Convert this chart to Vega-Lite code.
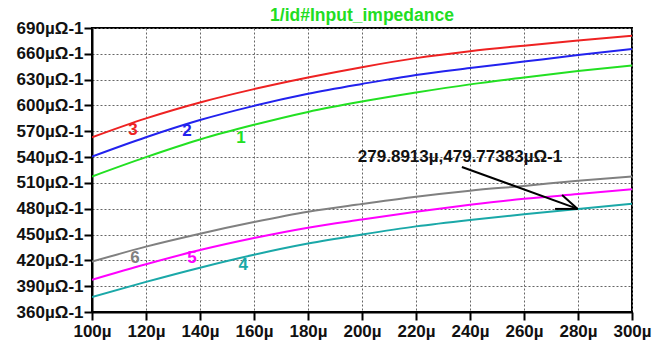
{
  "$schema": "https://vega.github.io/schema/vega-lite/v6.json",
  "width": 540,
  "height": 284,
  "autosize": {"type": "none"},
  "padding": {"left": 92, "top": 28, "right": 27, "bottom": 37},
  "background": "white",
  "config": {"view": {"stroke": "black", "strokeWidth": 2}, "font": "Liberation Sans"},
  "title": {"text": "1/id#Input_impedance", "color": "#22dd22", "fontSize": 17.5, "fontWeight": "bold", "font": "Liberation Sans", "anchor": "middle", "offset": 6, "dy": 11},
  "datasets": {
    "curves": [
      {"s": "3", "x": 100, "y": 563}, {"s": "3", "x": 120, "y": 585}, {"s": "3", "x": 140, "y": 603.5}, {"s": "3", "x": 160, "y": 619}, {"s": "3", "x": 180, "y": 632.5}, {"s": "3", "x": 200, "y": 644.5}, {"s": "3", "x": 220, "y": 655}, {"s": "3", "x": 240, "y": 663}, {"s": "3", "x": 260, "y": 669.5}, {"s": "3", "x": 280, "y": 675.5}, {"s": "3", "x": 300, "y": 681},
      {"s": "2", "x": 100, "y": 540.5}, {"s": "2", "x": 120, "y": 563}, {"s": "2", "x": 140, "y": 583}, {"s": "2", "x": 160, "y": 599.5}, {"s": "2", "x": 180, "y": 613.5}, {"s": "2", "x": 200, "y": 625}, {"s": "2", "x": 220, "y": 635.5}, {"s": "2", "x": 240, "y": 643.5}, {"s": "2", "x": 260, "y": 651}, {"s": "2", "x": 280, "y": 658.5}, {"s": "2", "x": 300, "y": 665.5},
      {"s": "1", "x": 100, "y": 517.5}, {"s": "1", "x": 120, "y": 540}, {"s": "1", "x": 140, "y": 560.5}, {"s": "1", "x": 160, "y": 577.5}, {"s": "1", "x": 180, "y": 592.5}, {"s": "1", "x": 200, "y": 604.5}, {"s": "1", "x": 220, "y": 615}, {"s": "1", "x": 240, "y": 624.5}, {"s": "1", "x": 260, "y": 632.5}, {"s": "1", "x": 280, "y": 640}, {"s": "1", "x": 300, "y": 646.5},
      {"s": "6", "x": 100, "y": 418.5}, {"s": "6", "x": 120, "y": 436}, {"s": "6", "x": 140, "y": 451}, {"s": "6", "x": 160, "y": 464.5}, {"s": "6", "x": 180, "y": 476.5}, {"s": "6", "x": 200, "y": 485.5}, {"s": "6", "x": 220, "y": 494}, {"s": "6", "x": 240, "y": 501}, {"s": "6", "x": 260, "y": 506.5}, {"s": "6", "x": 280, "y": 512.5}, {"s": "6", "x": 300, "y": 517.5},
      {"s": "5", "x": 100, "y": 397.5}, {"s": "5", "x": 120, "y": 415.5}, {"s": "5", "x": 140, "y": 432}, {"s": "5", "x": 160, "y": 446}, {"s": "5", "x": 180, "y": 458}, {"s": "5", "x": 200, "y": 467.5}, {"s": "5", "x": 220, "y": 476.5}, {"s": "5", "x": 240, "y": 484.5}, {"s": "5", "x": 260, "y": 491.5}, {"s": "5", "x": 280, "y": 497}, {"s": "5", "x": 300, "y": 502.5},
      {"s": "4", "x": 100, "y": 377.5}, {"s": "4", "x": 120, "y": 395}, {"s": "4", "x": 140, "y": 411.5}, {"s": "4", "x": 160, "y": 426.5}, {"s": "4", "x": 180, "y": 439.5}, {"s": "4", "x": 200, "y": 450}, {"s": "4", "x": 220, "y": 459.5}, {"s": "4", "x": 240, "y": 467}, {"s": "4", "x": 260, "y": 473.5}, {"s": "4", "x": 280, "y": 479.8}, {"s": "4", "x": 300, "y": 485.8}
    ],
    "labels": [
      {"s": "3", "x": 115.2, "y": 571.5, "t": "3"},
      {"s": "2", "x": 135.2, "y": 570.3, "t": "2"},
      {"s": "1", "x": 155.2, "y": 562.2, "t": "1"},
      {"s": "6", "x": 115.9, "y": 422.7, "t": "6"},
      {"s": "5", "x": 137, "y": 422.7, "t": "5"},
      {"s": "4", "x": 156, "y": 414.6, "t": "4"}
    ],
    "note": [
      {"x": 236.3, "y": 540, "t": "279.8913µ,479.77383µΩ-1"}
    ],
    "arrow": [
      {"seg": "a", "x": 237, "y": 528.5}, {"seg": "a", "x": 279.89, "y": 479.77},
      {"seg": "b", "x": 274.1, "y": 496}, {"seg": "b", "x": 279.89, "y": 479.77},
      {"seg": "c", "x": 271.5, "y": 479.77}, {"seg": "c", "x": 279.89, "y": 479.77}
    ]
  },
  "encoding": {
    "x": {
      "field": "x", "type": "quantitative",
      "scale": {"domain": [100, 300], "nice": false, "zero": false},
      "axis": {
        "title": null, "values": [100, 120, 140, 160, 180, 200, 220, 240, 260, 280, 300],
        "labelExpr": "datum.value + 'µ'", "grid": true, "gridDash": [2, 2], "gridColor": "#666666", "gridWidth": 1,
        "domainColor": "black", "domainWidth": 2, "tickColor": "black", "tickWidth": 2, "tickSize": 8,
        "labelFontSize": 17, "labelFontWeight": "bold", "labelColor": "#111111", "labelPadding": 3, "labelFont": "Liberation Sans", "labelFlush": false, "labelOverlap": false
      }
    },
    "y": {
      "field": "y", "type": "quantitative",
      "scale": {"domain": [360, 690], "nice": false, "zero": false},
      "axis": {
        "title": null, "values": [360, 390, 420, 450, 480, 510, 540, 570, 600, 630, 660, 690],
        "labelExpr": "datum.value + 'µΩ-1'", "grid": true, "gridDash": [2, 2], "gridColor": "#666666", "gridWidth": 1,
        "domainColor": "black", "domainWidth": 2, "tickColor": "black", "tickWidth": 2, "tickSize": 8,
        "labelFontSize": 17, "labelFontWeight": "bold", "labelColor": "#111111", "labelPadding": 1, "labelFont": "Liberation Sans", "labelOverlap": false
      }
    }
  },
  "layer": [
    {
      "data": {"name": "curves"},
      "mark": {"type": "line", "strokeWidth": 2, "interpolate": "monotone", "clip": true},
      "encoding": {
        "color": {"field": "s", "type": "nominal", "legend": null,
          "scale": {"domain": ["1", "2", "3", "4", "5", "6"], "range": ["#22e022", "#2222ee", "#ee2222", "#1aa8a8", "#ff00ff", "#808080"]}}
      }
    },
    {
      "data": {"name": "labels"},
      "mark": {"type": "text", "fontSize": 17, "fontWeight": "bold", "font": "Liberation Sans", "align": "center", "baseline": "middle"},
      "encoding": {
        "text": {"field": "t"},
        "color": {"field": "s", "type": "nominal", "legend": null}
      }
    },
    {
      "data": {"name": "note"},
      "mark": {"type": "text", "fontSize": 17, "fontWeight": "bold", "font": "Liberation Sans", "align": "center", "baseline": "middle", "color": "#111111"},
      "encoding": {"text": {"field": "t"}}
    },
    {
      "data": {"name": "arrow"},
      "mark": {"type": "line", "strokeWidth": 2, "color": "black"},
      "encoding": {"detail": {"field": "seg"}}
    }
  ]
}
